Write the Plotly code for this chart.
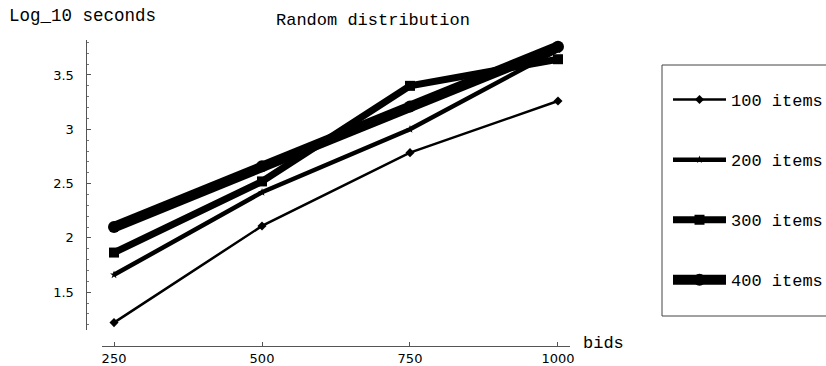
import plotly.graph_objects as go

bids = [250, 500, 750, 1000]
items_100 = [1.22, 2.11, 2.785, 3.26]
items_200 = [1.66, 2.42, 3.00, 3.73]
items_300 = [1.865, 2.52, 3.40, 3.645]
items_400 = [2.10, 2.66, 3.21, 3.76]
series_names = ["100 items", "200 items", "300 items", "400 items"]
x_ticks = [250, 500, 750, 1000]
y_ticks = [1.5, 2, 2.5, 3, 3.5]
y_tick_text = ["1.5", "2", "2.5", "3", "3.5"]

W, H = 826, 366
def px(x): return x / W
def py(y): return 1 - y / H

mono = "Liberation Mono"
sans = "DejaVu Sans"

widths = [2.5, 4.5, 7, 10.5]
symbols = ["diamond", "star", "square", "circle"]
msizes = [7, 6, 10, 12]
data = [items_100, items_200, items_300, items_400]

fig = go.Figure()
for i, (name, ys) in enumerate(zip(series_names, data)):
    fig.add_trace(go.Scatter(
        x=bids, y=ys, name=name, mode="lines+markers",
        line=dict(color="black", width=widths[i]),
        marker=dict(symbol=symbols[i], size=msizes[i], color="black"),
        legendgroup=name,
    ))

fig.update_layout(
    width=W, height=H,
    margin=dict(l=0, r=0, t=0, b=0, autoexpand=False),
    paper_bgcolor="white", plot_bgcolor="white",
    showlegend=True,
    legend=dict(
        xref="container", yref="container",
        x=px(668), y=py(82), xanchor="left", yanchor="top",
        bgcolor="rgba(0,0,0,0)", borderwidth=0,
        font=dict(family=mono, size=17, color="black"),
        tracegroupgap=35, itemwidth=53, maxheight=340,
    ),
    xaxis=dict(
        domain=[px(102), px(570)], range=[229.7, 1020.3],
        anchor="free", position=py(346),
        showline=True, linecolor="#555", linewidth=1,
        showgrid=False, zeroline=False,
        tickvals=x_ticks, ticks="inside", ticklen=4, tickcolor="#555",
        tickfont=dict(family=sans, size=13, color="black"),
    ),
    yaxis=dict(
        domain=[py(330), py(40)], range=[1.152, 3.822],
        anchor="free", position=px(85.5),
        showline=True, linecolor="#555", linewidth=1,
        showgrid=False, zeroline=False,
        tickvals=y_ticks, ticktext=y_tick_text, ticks="inside", ticklen=4, tickcolor="#555",
        minor=dict(dtick=0.1, tick0=0, ticks="inside", ticklen=2, tickcolor="#777"),
        tickfont=dict(family=sans, size=13, color="black"),
        ticklabelstandoff=9,
    ),
    shapes=[dict(type="rect", xref="paper", yref="paper",
                 x0=px(662), x1=px(840), y0=py(316), y1=py(65),
                 line=dict(color="#444", width=1), fillcolor="rgba(0,0,0,0)")],
    annotations=[
        dict(text="Random distribution", xref="paper", yref="paper",
             x=px(373), y=py(21), showarrow=False, xanchor="center", yanchor="middle",
             font=dict(family=mono, size=17, color="black")),
        dict(text="Log_10 seconds", xref="paper", yref="paper",
             x=px(7), y=py(16), showarrow=False, xanchor="left", yanchor="middle",
             font=dict(family=mono, size=17.5, color="black")),
        dict(text="bids", xref="paper", yref="paper",
             x=px(581), y=py(343), showarrow=False, xanchor="left", yanchor="middle",
             font=dict(family=mono, size=17, color="black")),
    ],
)

fig.write_html("out.html")
